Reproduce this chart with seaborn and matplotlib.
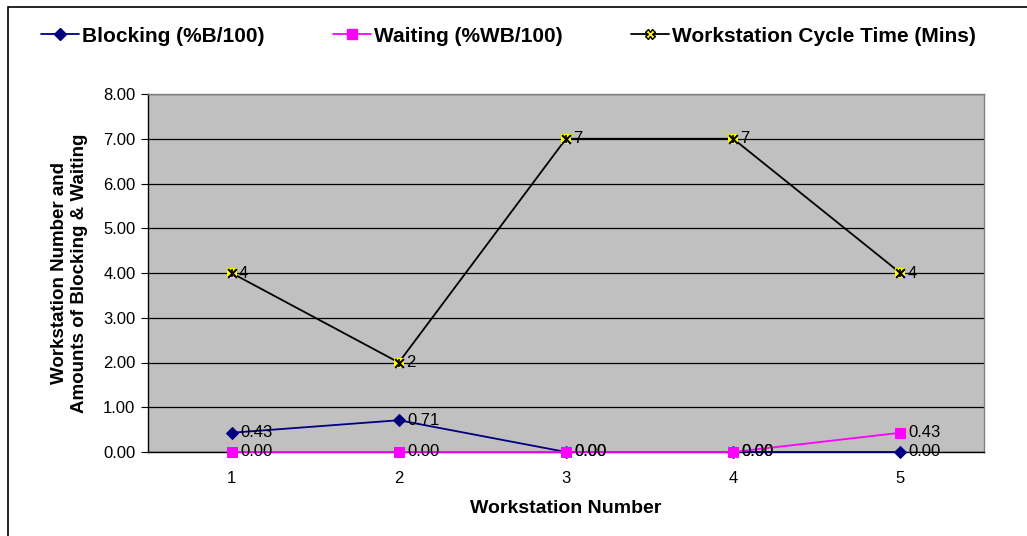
# plot.py
# blocking / waiting / cycle time per workstation

import pandas as pd
import matplotlib
matplotlib.use('Agg')
import matplotlib.pyplot as plt
from matplotlib.lines import Line2D
from matplotlib.patches import Rectangle
import seaborn as sns

# data
workstations = [1, 2, 3, 4, 5]
blocking = [0.43, 0.71, 0.00, 0.00, 0.00]
waiting = [0.00, 0.00, 0.00, 0.00, 0.43]
cycle_time = [4, 2, 7, 7, 4]
y_ticks = [0, 1, 2, 3, 4, 5, 6, 7, 8]

df = pd.DataFrame({'Workstation': workstations,
                   'Blocking': blocking,
                   'Waiting': waiting,
                   'Cycle': cycle_time})

sns.set_style('white')
plt.rcParams['font.family'] = ['Liberation Sans', 'DejaVu Sans']
plt.rcParams['text.color'] = 'black'
plt.rcParams['axes.labelcolor'] = 'black'
plt.rcParams['xtick.color'] = 'black'
plt.rcParams['ytick.color'] = 'black'

fig = plt.figure(figsize=(10.27, 5.36), dpi=100)
ax = fig.add_axes([148/1027, 1 - 452/536, 836/1027, 358/536])
ax.set_facecolor('#C0C0C0')

# chart area border (cut off at right / bottom like the original)
fig.patches.append(Rectangle((8/1027, -0.1), 1.2, 1 - 7/536 + 0.1, transform=fig.transFigure,
                             fill=False, edgecolor='black', linewidth=1.2, zorder=0))

NAVY = '#000080'
MAGENTA = '#FF00FF'

sns.lineplot(data=df, x='Workstation', y='Blocking', ax=ax, color=NAVY, linewidth=1.3,
             marker='D', markersize=6, markeredgecolor=NAVY, zorder=3, clip_on=False)
sns.lineplot(data=df, x='Workstation', y='Waiting', ax=ax, color=MAGENTA, linewidth=1.3,
             marker='s', markersize=7, markeredgecolor=MAGENTA, zorder=4, clip_on=False)
sns.lineplot(data=df, x='Workstation', y='Cycle', ax=ax, color='black', linewidth=1.3, zorder=5)
ax.scatter(df['Workstation'], df['Cycle'], marker='s', s=60, color='yellow', zorder=6, linewidths=0)
ax.scatter(df['Workstation'], df['Cycle'], marker='x', s=40, color='black', zorder=7, linewidths=1.5)
ax.scatter(df['Workstation'], df['Cycle'], marker='|', s=40, color='black', zorder=7, linewidths=1.2)

# data labels
for x, b, w, c in zip(workstations, blocking, waiting, cycle_time):
    ax.annotate(f'{b:.2f}', (x, b), xytext=(6, 0), textcoords='offset points',
                va='center', ha='left', fontsize=12, zorder=8, annotation_clip=False)
    ax.annotate(f'{w:.2f}', (x, w), xytext=(6, 0), textcoords='offset points',
                va='center', ha='left', fontsize=12, zorder=8, annotation_clip=False)
    ax.annotate(f'{c}', (x, c), xytext=(5, 0), textcoords='offset points',
                va='center', ha='left', fontsize=12, zorder=8)

ax.set_xlim(0.5, 5.5)
ax.set_ylim(0, 8)
ax.set_yticks(y_ticks)
ax.set_yticklabels([f'{v:.2f}' for v in y_ticks], fontsize=12)
ax.set_xticks(workstations)
ax.set_xticklabels([str(v) for v in workstations], fontsize=12)
ax.set_xticks([1.5, 2.5, 3.5, 4.5], minor=True)
ax.tick_params(axis='x', which='major', length=0, pad=14)
ax.tick_params(axis='x', which='minor', length=5, color='black', direction='out')
ax.tick_params(axis='y', length=5, color='black', direction='out', pad=4, left=True)
ax.grid(axis='y', color='black', linewidth=0.9)
ax.set_axisbelow(True)

for side in ['top', 'right']:
    ax.spines[side].set_color('#808080')
    ax.spines[side].set_linewidth(1.0)
for side in ['left', 'bottom']:
    ax.spines[side].set_color('black')
    ax.spines[side].set_linewidth(1.0)
    ax.spines[side].set_zorder(2.5)

ax.set_xlabel('Workstation Number', fontsize=14, fontweight='bold', labelpad=10)
ax.set_ylabel('Workstation Number and\nAmounts of Blocking & Waiting', fontsize=13.5,
              fontweight='bold', labelpad=11, linespacing=1.2)

handles = [
    Line2D([], [], color=NAVY, marker='D', markersize=6, linewidth=1.3),
    Line2D([], [], color=MAGENTA, marker='s', markersize=7, linewidth=1.3),
    Line2D([], [], color='black', marker='X', markersize=7, markerfacecolor='yellow',
           markeredgecolor='black', linewidth=1.3),
]
labels = ['Blocking (%B/100)', 'Waiting (%WB/100)', 'Workstation Cycle Time (Mins)']
fig.legend(handles, labels, loc='center', bbox_to_anchor=(0.495, 1 - 36/536), ncol=3,
           frameon=False, prop={'weight': 'bold', 'size': 15}, handlelength=1.8,
           handletextpad=0.15, columnspacing=3.3)

fig.savefig('out.png', dpi=100)
